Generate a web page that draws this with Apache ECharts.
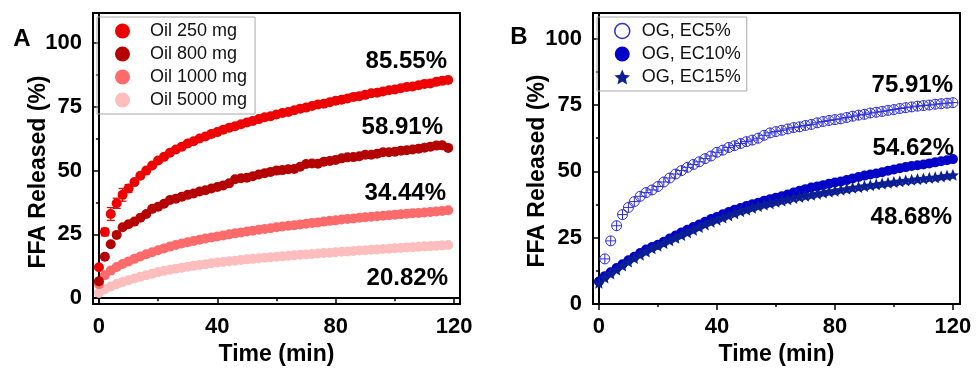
<!DOCTYPE html>
<html>
<head>
<meta charset="utf-8">
<script src="https://cdn.jsdelivr.net/npm/echarts@6/dist/echarts.min.js"></script>
<style>
  html, body { margin: 0; padding: 0; background: #fff; }
  #chart { width: 976px; height: 371px; }
</style>
</head>
<body>
<div id="chart"></div>
<script>
// panel A: time points (min) and FFA released (%)
const timeA = [0, 2, 4, 6, 8, 10, 12, 14, 16, 18, 20, 22, 24, 26, 28, 30, 32, 34, 36, 38,
  40, 42, 44, 46, 48, 50, 52, 54, 56, 58, 60, 62, 64, 66, 68, 70, 72, 74, 76, 78,
  80, 82, 84, 86, 88, 90, 92, 94, 96, 98, 100, 102, 104, 106, 108, 110, 112, 114, 116, 118]
const oil250 = [12.1, 25.9, 33, 37.2, 40.5, 43, 45.5, 48, 50, 52, 54, 55.4, 57, 58.3, 59.4, 60.6, 61.5, 62.6, 63.4, 64.4,
  65.1, 66, 66.8, 67.4, 68.2, 68.9, 69.5, 70.2, 70.9, 71.3, 72, 72.6, 73, 73.7, 74.3, 74.7, 75.3, 75.9, 76.2, 76.8,
  77.4, 77.8, 78.3, 78.9, 79.2, 79.7, 80.3, 80.5, 81, 81.5, 81.8, 82.3, 82.8, 83, 83.5, 84, 84.2, 84.8, 85.2, 85.55]
const oil800 = [6.6, 16.2, 21.1, 24.8, 27.8, 29, 30, 31.5, 33, 35, 35.8, 37, 38.5, 39, 39.8, 40.5, 41, 41.8, 42.3, 43,
  43.6, 44.2, 45, 46.6, 47, 47.2, 47.8, 48.5, 49, 49.5, 50, 50.2, 50.5, 50.6, 51.5, 52.6, 52.8, 52.7, 53.5, 53.8,
  54.2, 54.8, 55.2, 55.3, 55.6, 56.2, 56.2, 56.6, 57.2, 57.2, 57.4, 57.8, 58, 58.3, 58.6, 59, 59.4, 59.8, 59.9, 58.91]
const oil1000 = [5.5, 9, 10.8, 12.2, 13.4, 14.4, 15.4, 16.3, 17.2, 18, 18.8, 19.5, 20.2, 20.8, 21.4, 21.9, 22.4, 22.9, 23.4, 23.8,
  24.2, 24.6, 25, 25.4, 25.7, 26.1, 26.4, 26.8, 27.1, 27.4, 27.8, 28.1, 28.4, 28.6, 28.9, 29.2, 29.5, 29.7, 30, 30.3,
  30.5, 30.8, 31, 31.2, 31.5, 31.7, 31.9, 32.1, 32.3, 32.5, 32.7, 32.9, 33.1, 33.3, 33.4, 33.6, 33.8, 34, 34.2, 34.44]
const oil5000 = [2, 3.5, 4.6, 5.5, 6.3, 7, 7.7, 8.4, 9, 9.6, 10.2, 10.7, 11.1, 11.5, 11.9, 12.3, 12.7, 13, 13.3, 13.7,
  14, 14.2, 14.5, 14.7, 15, 15.2, 15.4, 15.6, 15.8, 16, 16.2, 16.4, 16.6, 16.8, 17, 17.1, 17.3, 17.5, 17.7, 17.8,
  18, 18.2, 18.3, 18.5, 18.7, 18.8, 19, 19.1, 19.3, 19.4, 19.6, 19.7, 19.9, 20, 20.1, 20.3, 20.4, 20.5, 20.7, 20.82]
// error bars (±) visible on the early Oil 250 mg points
const errTimeA = [2, 4, 6, 8, 10]
const err250 = [1.5, 2.5, 2, 2.5, 1.5]

// panel B
const timeB = [0, 2, 4, 6, 8, 10, 12, 14, 16, 18, 20, 22, 24, 26, 28, 30, 32, 34, 36, 38,
  40, 42, 44, 46, 48, 50, 52, 54, 56, 58, 60, 62, 64, 66, 68, 70, 72, 74, 76, 78,
  80, 82, 84, 86, 88, 90, 92, 94, 96, 98, 100, 102, 104, 106, 108, 110, 112, 114, 116, 118, 120]
const ec5 = [null, 17, 23.8, 29.5, 33.7, 36.4, 38.6, 40.6, 42, 43, 44.3, 46, 47.5, 49, 50.3, 51.5, 52.6, 53.6, 54.8, 55.8,
  57.2, 58, 59, 59.7, 60.5, 61.2, 61.8, 62.5, 63.6, 64.5, 65, 65.5, 66, 66.5, 66.8, 67.3, 67.7, 68.3, 68.8, 69.2,
  69.5, 69.8, 70.3, 70.8, 71.2, 71.5, 72, 72.3, 72.6, 73, 73.3, 73.7, 74, 74.3, 74.6, 74.8, 75, 75.3, 75.5, 75.7, 75.91]
const ec10 = [8.5, 10.5, 12, 13.6, 15, 16.5, 17.8, 19.2, 20.5, 21.5, 22.3, 23.5, 24.7, 25.8, 27, 28, 29, 30, 31, 32,
  32.8, 33.8, 34.7, 35.5, 36.2, 36.9, 37.6, 38.2, 38.9, 39.5, 40.1, 40.6, 41.3, 42, 42.7, 43.3, 43.9, 44.3, 44.8, 45.3,
  45.8, 46.2, 46.7, 47.3, 47.9, 48.4, 48.8, 49.2, 49.7, 50.2, 50.7, 51.2, 51.6, 52, 52.3, 52.6, 53, 53.4, 53.8, 54.2, 54.62]
const ec15 = [8, 10, 11.5, 13, 14.5, 16, 17.3, 18.6, 19.8, 21, 22, 23, 24, 25, 26, 27, 28, 29, 30, 31,
  31.8, 32.6, 33.4, 34.2, 35, 35.6, 36.3, 36.9, 37.5, 38, 38.5, 39, 39.5, 40, 40.4, 40.8, 41.2, 41.6, 42, 42.4,
  42.7, 43.1, 43.4, 43.8, 44.1, 44.5, 44.8, 45.1, 45.4, 45.7, 46, 46.3, 46.6, 46.8, 47.1, 47.3, 47.6, 47.8, 48.1, 48.4, 48.68]

const xTicks = [0, 40, 80, 120]
const xMinor = [20, 60, 100]
const yTicks = [0, 25, 50, 75, 100]
const yMinor = [12.5, 37.5, 62.5, 87.5]

const FONT = '"Liberation Sans", Arial, sans-serif'
const circlePlus = 'path://M0,10A10,10,0,1,1,20,10A10,10,0,1,1,0,10ZM10,0L10,20M0,10L20,10'
const star = 'path://M10,0L12.9,6.9L20,7.6L14.6,12.3L16.2,19.3L10,15.6L3.8,19.3L5.4,12.3L0,7.6L7.1,6.9Z'

function pairs(times, values) {
  const out = []
  times.forEach((t, i) => { if (values[i] != null) out.push([t, values[i]]) })
  return out
}

function mainX(gridIndex, max, name) {
  return {
    type: 'value', gridIndex, min: -2, max, name, nameLocation: 'middle', nameGap: 39,
    nameTextStyle: { fontFamily: FONT, fontSize: 23, fontWeight: 'bold', color: '#000' },
    axisLine: { show: true, lineStyle: { color: '#000', width: 2 } },
    axisTick: { show: true, length: 6, customValues: xTicks, lineStyle: { color: '#000', width: 1.5 } },
    axisLabel: { customValues: xTicks, margin: 12, fontFamily: FONT, fontSize: 22, fontWeight: 'bold', color: '#000' },
    splitLine: { show: false }
  }
}
function minorX(gridIndex, max) {
  return {
    type: 'value', gridIndex, min: -2, max, position: 'bottom',
    axisLine: { show: false },
    axisTick: { show: true, length: 3, customValues: xMinor, lineStyle: { color: '#000', width: 1.5 } },
    axisLabel: { show: false }, splitLine: { show: false }
  }
}
function mainY(gridIndex, min, max) {
  return {
    type: 'value', gridIndex, min, max, position: 'left',
    axisLine: { show: true, lineStyle: { color: '#000', width: 2 } },
    axisTick: { show: true, length: 6, customValues: yTicks, lineStyle: { color: '#000', width: 1.5 } },
    axisLabel: { customValues: yTicks, margin: 11, fontFamily: FONT, fontSize: 22, fontWeight: 'bold', color: '#000' },
    splitLine: { show: false }
  }
}
function minorY(gridIndex, min, max) {
  return {
    type: 'value', gridIndex, min, max, position: 'left',
    axisLine: { show: false },
    axisTick: { show: true, length: 3, customValues: yMinor, lineStyle: { color: '#000', width: 1.5 } },
    axisLabel: { show: false }, splitLine: { show: false }
  }
}

function scatter(name, xIdx, yIdx, data, color, symbol, size, extra) {
  return Object.assign({
    name, type: 'scatter', xAxisIndex: xIdx, yAxisIndex: yIdx, data,
    symbol, symbolSize: size, itemStyle: { color, opacity: 1 }, emphasis: { disabled: true }
  }, extra || {})
}

const errData = errTimeA.map((t, i) => [t, oil250[timeA.indexOf(t)] - err250[i], oil250[timeA.indexOf(t)] + err250[i]])

const chart = echarts.init(document.getElementById('chart'))

const pctStyle = { fill: '#000', font: 'bold 24px ' + FONT, align: 'right', verticalAlign: 'middle' }
const titleStyle = { fill: '#000', font: 'bold 23px ' + FONT, align: 'center', verticalAlign: 'middle' }

const option = {
  animation: false,
  backgroundColor: '#fff',
  grid: [
    { left: 93, top: 13, width: 367, height: 296, show: true, borderColor: '#000', borderWidth: 2 },
    { left: 593, top: 13, width: 367, height: 295, show: true, borderColor: '#000', borderWidth: 2 }
  ],
  xAxis: [mainX(0, 122, 'Time (min)'), minorX(0, 122), mainX(1, 122.4, 'Time (min)'), minorX(1, 122.4)],
  yAxis: [mainY(0, -2.3, 111.8), minorY(0, -2.3, 111.8), mainY(1, 0, 109.7), minorY(1, 0, 109.7)],
  legend: [
    {
      left: 97, top: 17, orient: 'vertical', itemWidth: 45, itemHeight: 15, itemGap: 5,
      padding: [5, 8, 5, 18], borderColor: '#a8a8a8', borderWidth: 1, icon: 'circle',
      textStyle: { fontFamily: FONT, fontSize: 18, color: '#111' },
      data: ['Oil 250 mg', 'Oil 800 mg', 'Oil 1000 mg', 'Oil 5000 mg']
    },
    {
      left: 597, top: 17, orient: 'vertical', itemWidth: 29, itemHeight: 15, itemGap: 5,
      padding: [5, 6, 5, 17], borderColor: '#a8a8a8', borderWidth: 1,
      textStyle: { fontFamily: FONT, fontSize: 18, color: '#111' },
      data: [
        { name: 'OG, EC5%', icon: 'circle', itemStyle: { color: '#fff', borderColor: '#2e2ed8', borderWidth: 1.5 } },
        { name: 'OG, EC10%', icon: 'circle' },
        { name: 'OG, EC15%', icon: star }
      ]
    }
  ],
  series: [
    scatter('Oil 5000 mg', 0, 0, pairs(timeA, oil5000), '#ffbdbd', 'circle', 10),
    scatter('Oil 1000 mg', 0, 0, pairs(timeA, oil1000), '#ff6a6a', 'circle', 10),
    scatter('Oil 800 mg', 0, 0, pairs(timeA, oil800), '#b40000', 'circle', 10),
    {
      type: 'custom', xAxisIndex: 0, yAxisIndex: 0, data: errData, silent: true, z: 1,
      renderItem(params, api) {
        const top = api.coord([api.value(0), api.value(2)])
        const bot = api.coord([api.value(0), api.value(1)])
        const style = { stroke: '#ee0000', lineWidth: 1.2 }
        return {
          type: 'group', children: [
            { type: 'line', shape: { x1: top[0], y1: top[1], x2: bot[0], y2: bot[1] }, style },
            { type: 'line', shape: { x1: top[0] - 4, y1: top[1], x2: top[0] + 4, y2: top[1] }, style },
            { type: 'line', shape: { x1: bot[0] - 4, y1: bot[1], x2: bot[0] + 4, y2: bot[1] }, style }
          ]
        }
      }
    },
    scatter('Oil 250 mg', 0, 0, pairs(timeA, oil250), '#ee0000', 'circle', 10),
    scatter('OG, EC5%', 2, 2, pairs(timeB, ec5), '#2e2ed8', circlePlus, 10,
      { itemStyle: { color: 'rgba(0,0,0,0)', borderColor: '#2e2ed8', borderWidth: 1, opacity: 1 } }),
    scatter('OG, EC10%', 2, 2, pairs(timeB, ec10), '#0000c8', 'circle', 10),
    scatter('OG, EC15%', 2, 2, pairs(timeB, ec15), '#0b1e96', star, 12)
  ],
  graphic: [
    { type: 'text', x: 22, y: 39, style: { text: 'A', fill: '#000', font: 'bold 24px ' + FONT, align: 'center', verticalAlign: 'middle' } },
    { type: 'text', x: 519, y: 37, style: { text: 'B', fill: '#000', font: 'bold 24px ' + FONT, align: 'center', verticalAlign: 'middle' } },
    { type: 'text', x: 39, y: 172, rotation: Math.PI / 2, style: Object.assign({ text: 'FFA Released (%)' }, titleStyle) },
    { type: 'text', x: 538, y: 171, rotation: Math.PI / 2, style: Object.assign({ text: 'FFA Released (%)' }, titleStyle) },
    { type: 'text', x: 447, y: 61, style: Object.assign({ text: '85.55%' }, pctStyle) },
    { type: 'text', x: 443, y: 127, style: Object.assign({ text: '58.91%' }, pctStyle) },
    { type: 'text', x: 446, y: 193, style: Object.assign({ text: '34.44%' }, pctStyle) },
    { type: 'text', x: 448, y: 278, style: Object.assign({ text: '20.82%' }, pctStyle) },
    { type: 'text', x: 953, y: 85, style: Object.assign({ text: '75.91%' }, pctStyle) },
    { type: 'text', x: 954, y: 148, style: Object.assign({ text: '54.62%' }, pctStyle) },
    { type: 'text', x: 952, y: 217, style: Object.assign({ text: '48.68%' }, pctStyle) }
  ]
}

chart.setOption(option)
</script>
</body>
</html>
